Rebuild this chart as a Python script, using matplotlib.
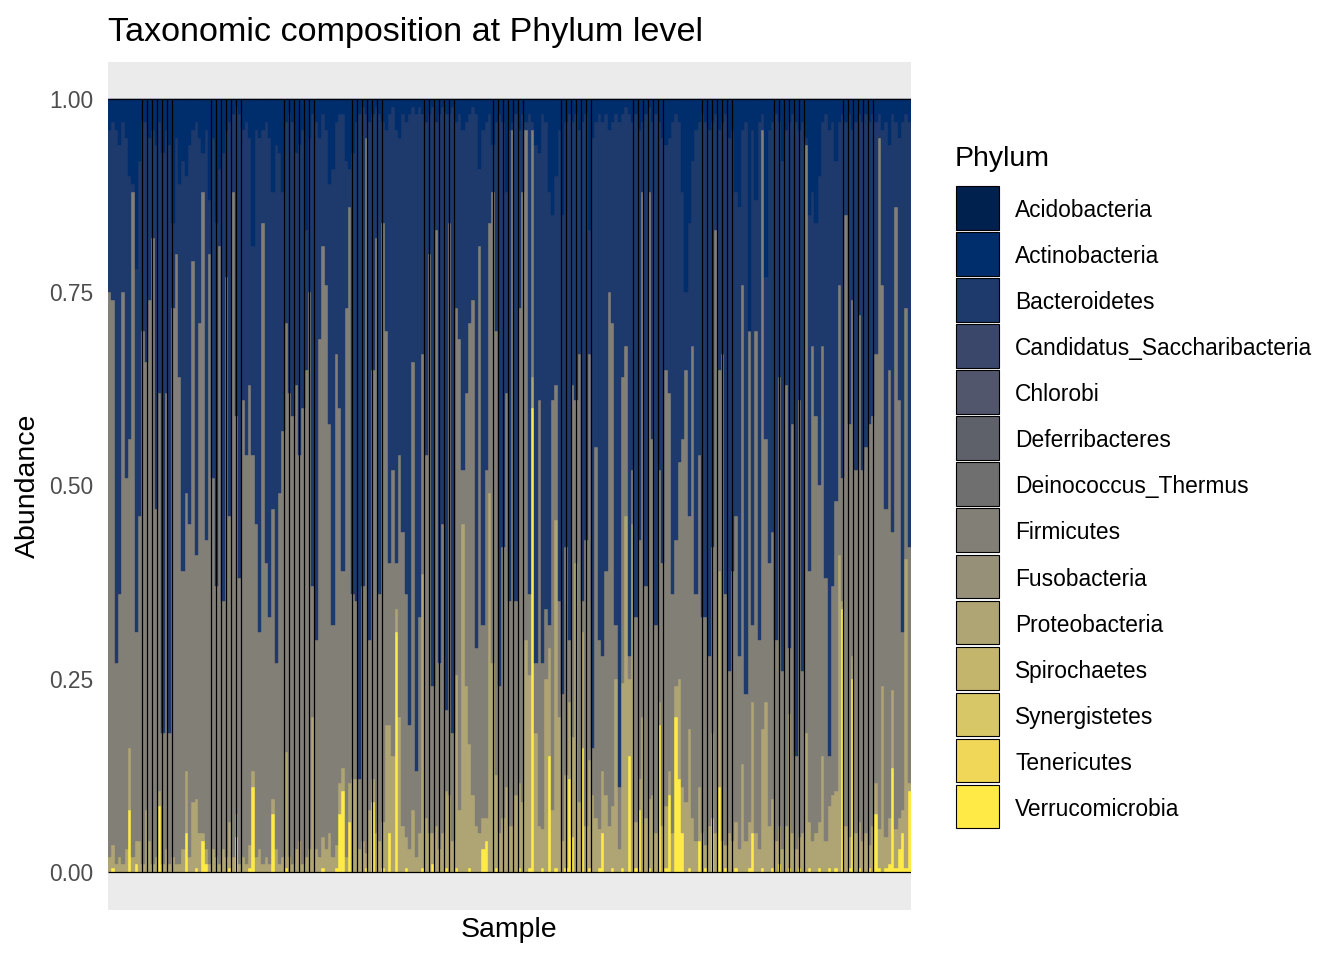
import numpy as np
import matplotlib
matplotlib.use('Agg')
import matplotlib.pyplot as plt
from matplotlib.patches import Rectangle

plt.rcParams['font.family'] = ['Liberation Sans', 'DejaVu Sans']

phyla = ['Acidobacteria', 'Actinobacteria', 'Bacteroidetes', 'Candidatus_Saccharibacteria',
         'Chlorobi', 'Deferribacteres', 'Deinococcus_Thermus', 'Firmicutes', 'Fusobacteria',
         'Proteobacteria', 'Spirochaetes', 'Synergistetes', 'Tenericutes', 'Verrucomicrobia']
colors = ['#00204D', '#002D6C', '#1E3A6C', '#3A476B', '#51566C', '#5E616A', '#6F6F70',
          '#827F77', '#979079', '#AFA474', '#C4B56C', '#D8C766', '#F0D758', '#FFEA46']

# percent per sample (left to right)
actino = [4, 3, 4, 6, 3, 5, 10, 11, 22, 8, 3, 3, 5, 4, 6, 3, 7, 4, 6, 16,
          5, 11, 8, 10, 6, 4, 3, 5, 7, 4, 13, 5, 16, 9, 7, 4, 3, 2, 1, 2,
          4, 3, 5, 19, 4, 5, 4, 3, 5, 12, 6, 7, 12, 3, 2, 3, 7, 6, 4, 17, 5,
          2, 3, 5, 2, 4, 11, 9, 3, 2, 2, 8, 9, 7, 3, 2, 1, 2, 3, 2, 1,
          2, 3, 4, 2, 1, 4, 5, 2, 3, 2, 1, 2, 1, 2, 3, 2, 1, 3, 2, 1,
          2, 2, 1, 3, 2, 4, 3, 2, 1, 2, 9, 4, 3, 2, 6, 3, 2, 3, 12, 4,
          3, 2, 4, 2, 3, 2, 3, 6, 7, 2, 3, 12, 15, 10, 4, 15, 3, 2, 3, 2,
          4, 3, 2, 17, 5, 3, 2, 3, 2, 4, 3, 2, 3, 2, 1, 2, 3, 2, 4, 3,
          2, 1, 3, 2, 3, 5, 6, 5, 3, 2, 3, 12, 25, 16, 8, 4, 3, 2, 3, 4,
          3, 2, 4, 3, 2, 5, 4, 12, 14, 4, 3, 30, 4, 13, 3, 2, 23, 4, 3, 2,
          3, 8, 4, 3, 2, 3, 4, 3, 5, 15, 12, 16, 10, 3, 2, 4, 3, 8, 3, 2,
          3, 2, 4, 3, 2, 3, 2, 3, 2, 3, 2, 4, 3, 6, 2, 3, 5, 3, 2, 3]

# share of Firmicutes plus everything stacked below it
lower_share = [75, 74, 27, 36, 75, 51, 56, 88, 31, 46, 70, 66, 74, 82, 47, 62, 18, 62, 18, 73,
               80, 64, 39, 49, 45, 79, 41, 71, 88, 43, 80, 51, 37, 81, 35, 77, 46, 88, 59, 38,
               61, 54, 63, 54, 45, 31, 84, 40, 33, 47, 27, 49, 57, 71, 62, 59, 63, 54, 60, 65, 75,
               37, 30, 69, 81, 76, 58, 32, 67, 60, 39, 73, 86, 36, 35, 12, 37, 95, 30, 65, 82,
               36, 84, 70, 40, 52, 40, 54, 44, 36, 19, 66, 13, 33, 67, 54, 80, 24, 83, 27, 45,
               21, 84, 18, 73, 69, 52, 62, 71, 74, 29, 81, 32, 52, 84, 88, 70, 24, 42, 62, 35,
               96, 35, 73, 88, 96, 36, 96, 27, 61, 27, 34, 32, 61, 63, 35, 23, 42, 30, 63, 61,
               67, 35, 43, 67, 16, 55, 30, 28, 39, 75, 71, 32, 11, 64, 68, 28, 52, 33, 43, 88,
               37, 88, 56, 32, 52, 40, 65, 62, 36, 43, 53, 56, 65, 46, 68, 36, 54, 33, 33, 28,
               42, 83, 65, 67, 36, 26, 39, 46, 28, 76, 23, 70, 32, 70, 30, 96, 56, 40, 44, 30,
               64, 26, 63, 29, 58, 15, 61, 26, 94, 39, 68, 59, 50, 68, 38, 15, 37, 48, 76, 51,
               85, 58, 74, 52, 72, 52, 55, 58, 59, 67, 95, 76, 47, 65, 44, 86, 61, 31, 73, 42]

proteo = [2, 3, 1, 2, 1, 3, 8, 2, 3, 4, 1, 8, 4, 1, 2, 2, 1, 3, 1, 2,
          1, 1, 3, 8, 2, 9, 9, 5, 1, 2, 1, 3, 2, 1, 3, 2, 6, 2, 3, 1,
          2, 1, 3, 2, 2, 3, 1, 2, 1, 2, 3, 1, 2, 15, 2, 1, 3, 4, 1, 2, 3,
          20, 3, 2, 4, 3, 5, 2, 3, 4, 3, 2, 5, 12, 12, 3, 4, 2, 8, 3, 5,
          4, 6, 19, 14, 15, 3, 20, 6, 4, 3, 8, 2, 5, 38, 7, 5, 4, 6, 3, 5,
          10, 10, 4, 25, 8, 45, 24, 16, 10, 6, 5, 4, 3, 49, 27, 12, 5, 7, 11, 6,
          6, 10, 11, 9, 30, 25, 4, 18, 6, 5, 25, 14, 8, 45, 20, 4, 12, 10, 13, 40,
          9, 15, 6, 14, 10, 7, 5, 8, 10, 6, 8, 25, 3, 24, 46, 10, 45, 6, 4, 20,
          7, 9, 10, 5, 3, 6, 8, 3, 5, 4, 13, 6, 9, 18, 7, 4, 7, 5, 3, 6,
          11, 5, 28, 4, 3, 5, 4, 6, 3, 14, 4, 6, 17, 5, 3, 18, 22, 6, 9, 4,
          5, 3, 6, 20, 5, 3, 4, 5, 18, 6, 4, 5, 6, 15, 4, 8, 10, 10, 41, 1,
          6, 4, 3, 5, 6, 4, 5, 3, 6, 4, 5, 24, 4, 6, 10, 5, 4, 3, 40, 1]

verruco = [0, 0.5, 0, 0, 0, 0, 8, 0, 1, 0, 0, 0, 0, 0, 0, 8.5, 0, 0, 0, 0,
           0, 0, 0, 5, 0, 0, 0.5, 0, 4, 1, 0, 0, 0, 0, 0, 0, 0.5, 0, 4.5, 0,
           0, 0, 0.5, 11, 0, 0, 0, 0, 0, 7.5, 0, 0, 0, 0.5, 0, 0, 0, 0, 0, 0, 0,
           0, 0, 0, 0.5, 0, 0, 0, 0.5, 7.5, 10.5, 0, 6.5, 0, 0, 0, 0, 0.5, 0, 9, 0,
           0, 0.5, 0, 5, 0, 31, 0, 0, 0.5, 0, 0, 0, 0, 0.5, 0, 0, 1, 0, 0, 0,
           0.5, 0, 0, 0.5, 0, 0, 0, 0.5, 0, 0, 0, 3, 4, 0, 0, 0.5, 0, 0, 0, 0,
           0, 0, 0.5, 0, 0, 0.5, 60, 0, 0, 0.5, 0, 15, 0, 0.5, 0, 0, 0.5, 12, 4.5, 0,
           0, 16, 0, 0.5, 0, 0, 0.5, 5, 0, 0, 0.5, 0, 0, 0.5, 0, 15, 0, 0.5, 8, 0,
           0, 0.5, 0, 0, 19, 0, 0.5, 10, 0, 20, 12, 5, 0, 0.5, 0, 0, 4, 0, 0.5, 0,
           7, 0, 11, 0, 0.5, 0, 0, 0.5, 0, 0, 0, 0.5, 5, 0, 0, 0.5, 0, 0, 0.5, 0,
           1, 0, 0, 0.5, 0, 0, 0.5, 0, 0, 0.5, 0, 0, 0.5, 0, 0, 0.5, 0, 0.5, 0, 34,
           0, 0.5, 25, 0, 0.5, 0, 0, 0.5, 0, 7.5, 0.5, 0, 0.5, 1, 13.5, 0.5, 3, 5, 0.5, 10.5]

# where the bar outlines show up as dark vertical lines (sample units)
outline_groups = [9.66, 30.37, 52.29, 72.70, 94.32, 115.03, 135.44, 157.06, 177.78, 199.39, 220.11]

n = len(actino)
x = np.arange(n)
act = np.array(actino) / 100
low = np.array(lower_share) / 100
pro = np.array(proteo) / 100
ver = np.array(verruco) / 100

abund = {name: np.zeros(n) for name in phyla}
abund['Actinobacteria'] = act
abund['Bacteroidetes'] = np.clip(1 - act - low, 0, None)
abund['Firmicutes'] = np.clip(low - pro - ver, 0, None)
abund['Proteobacteria'] = pro
abund['Verrucomicrobia'] = ver

fig = plt.figure(figsize=(13.44, 9.6), dpi=100)
W, H = 1344, 960
ax = fig.add_axes([108 / W, 1 - 910 / H, (911 - 108) / W, (910 - 62) / H])
ax.set_facecolor('#EBEBEB')

bottom = np.zeros(n)
for name, col in zip(phyla[::-1], colors[::-1]):
    h = abund[name]
    if h.sum() > 0:
        ax.bar(x, h, bottom=bottom, width=1.0, color=col, edgecolor=col, linewidth=0.3)
    bottom = bottom + h

for start in outline_groups:
    ax.vlines([start + 1.501 * k for k in range(7)], 0, 1, color='black', lw=0.9, zorder=3)
ax.hlines([0, 1], -0.5, n - 0.5, color='black', lw=0.9, zorder=3)

ax.set_xlim(-0.55, n - 0.45)
ax.set_ylim(-0.0492, 1.0479)
ax.set_xticks([])
ax.set_yticks([0, 0.25, 0.5, 0.75, 1.0])
ax.set_yticklabels(['0.00', '0.25', '0.50', '0.75', '1.00'])
ax.tick_params(axis='y', length=0, pad=10.5, labelsize=16.4, labelcolor='#4D4D4D')
for s in ax.spines.values():
    s.set_visible(False)

fig.text(108 / W, 1 - 41 / H, 'Taxonomic composition at Phylum level', fontsize=24.6,
         ha='left', va='baseline')
fig.text(28 / W, 1 - 486 / H, 'Abundance', fontsize=20.5, rotation=90, ha='center', va='center')
fig.text(509 / W, 1 - 930 / H, 'Sample', fontsize=20.5, ha='center', va='center')

# legend
lax = fig.add_axes([0, 0, 1, 1], facecolor='none')
lax.set_xlim(0, W)
lax.set_ylim(H, 0)
lax.axis('off')
lax.text(955, 159, 'Phylum', fontsize=20.5, ha='left', va='center')
for k, (name, col) in enumerate(zip(phyla, colors)):
    top = 186 + k * 46.07
    lax.add_patch(Rectangle((955.5, top), 43.5, 43.5, facecolor=col, edgecolor='black', lw=0.8))
    lax.text(1015, top + 24.5, name, fontsize=16.4, ha='left', va='center')

fig.savefig('out.png', dpi=100)
